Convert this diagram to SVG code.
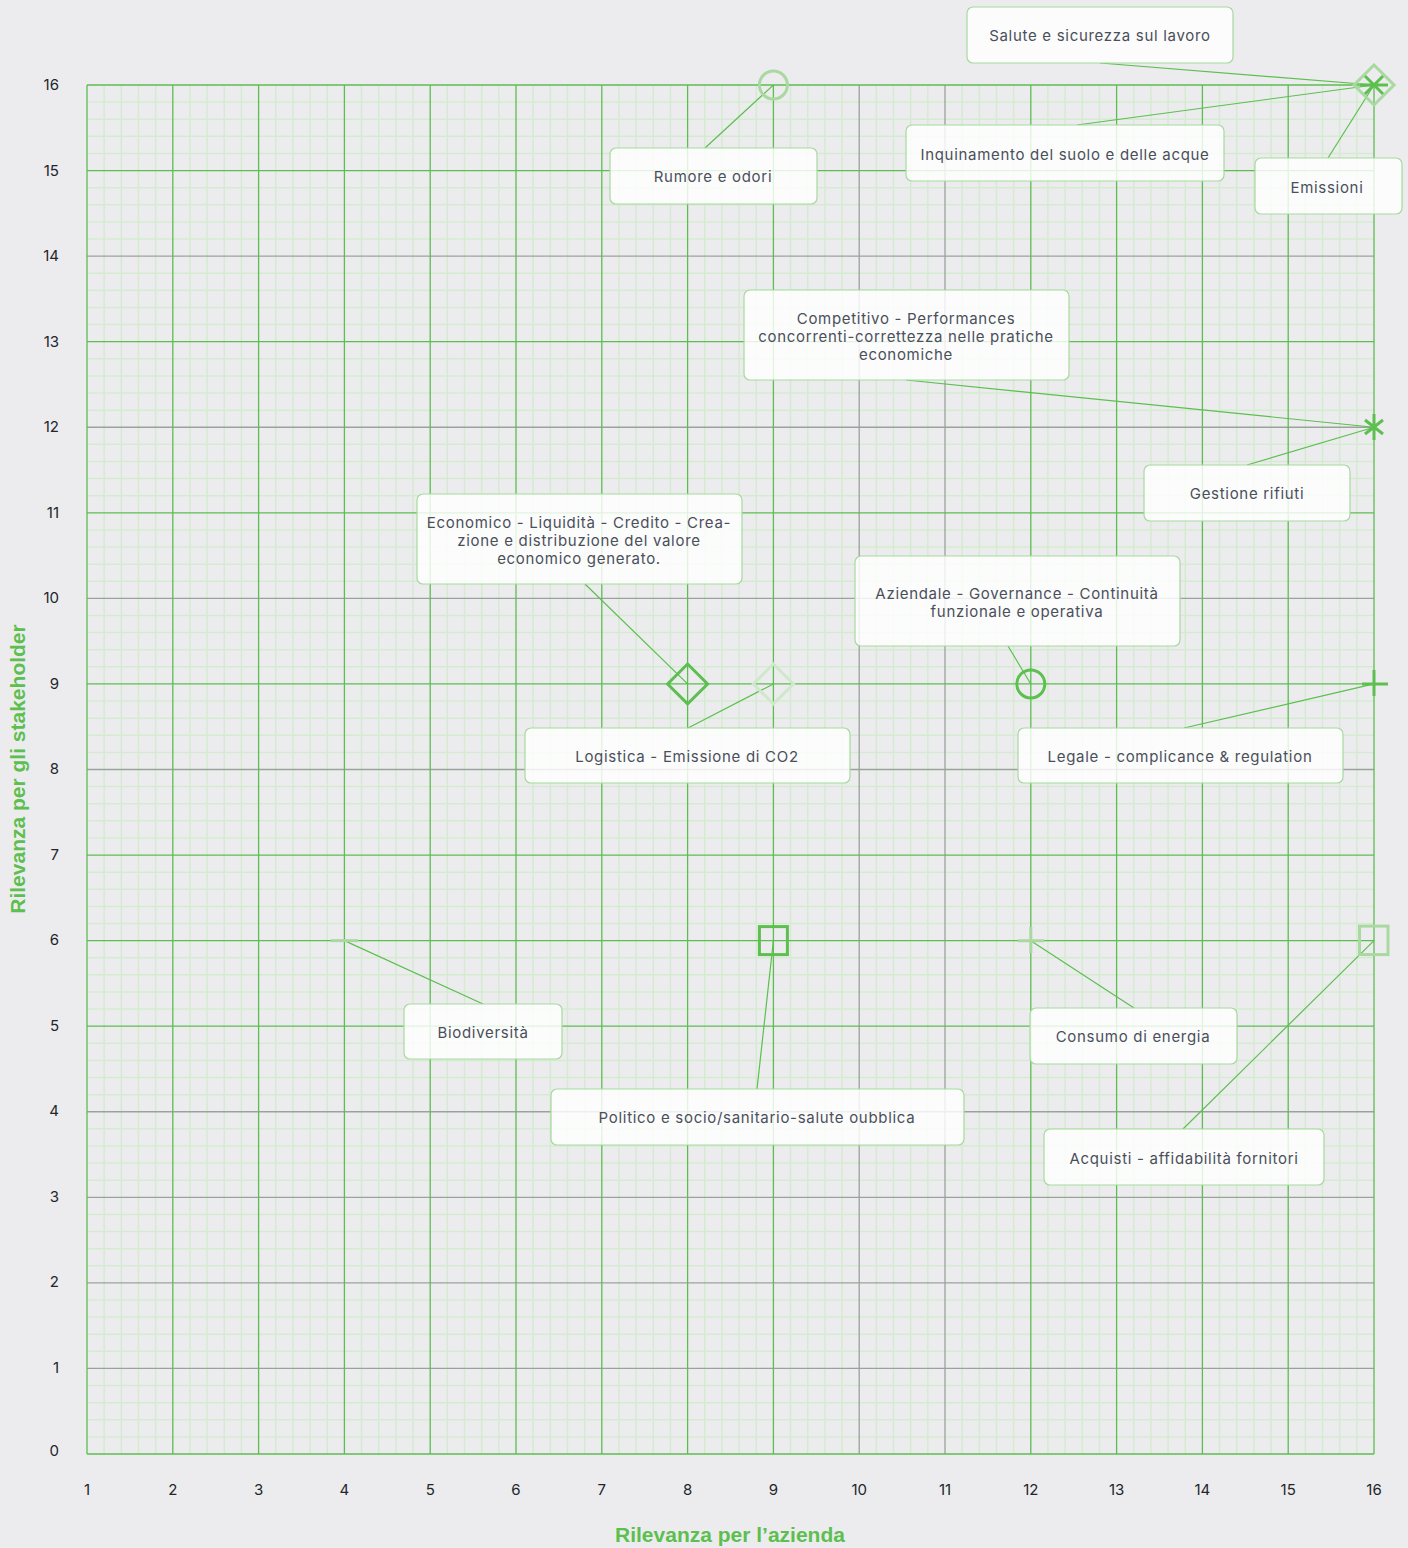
<svg xmlns="http://www.w3.org/2000/svg" width="1408" height="1548" viewBox="0 0 1408 1548">
<style>
.minor{stroke:#d5ebd1;stroke-width:1.5;fill:none}
.major{stroke:#5dbd52;stroke-width:1.3;fill:none}
.majorg{stroke:#9aa39a;stroke-width:1.3;fill:none}
.tick{font-family:Inter,"Liberation Sans",sans-serif;font-size:15px;fill:#22262b}
.title{font-family:"Liberation Sans",Arial,sans-serif;font-size:21px;font-weight:bold;fill:#5cbf4f}
.box{fill:#ffffff;fill-opacity:0.82;stroke:#a6d99d;stroke-width:1.2}
.lbl{font-family:Inter,"Liberation Sans",sans-serif;font-size:15px;letter-spacing:0.7px;fill:#4a4f5a;text-anchor:middle}
.conn{stroke:#5cbf4f;stroke-width:1.2;fill:none}
.mk{fill:none;stroke:#5cbf4f;stroke-width:3}
.mkl{fill:none;stroke:#a9d9a0;stroke-width:3}
.mkxl{fill:none;stroke:#cfe8ca;stroke-width:3}
</style>
<rect x="0" y="0" width="1408" height="1548" fill="#ececee"/>
<g id="grid">
<path class="minor" d="M104.16 85V1454M121.32 85V1454M138.48 85V1454M155.64 85V1454M189.96 85V1454M207.12 85V1454M224.28 85V1454M241.44 85V1454M275.76 85V1454M292.92 85V1454M310.08 85V1454M327.24 85V1454M361.56 85V1454M378.72 85V1454M395.88 85V1454M413.04 85V1454M447.36 85V1454M464.52 85V1454M481.68 85V1454M498.84 85V1454M533.16 85V1454M550.32 85V1454M567.48 85V1454M584.64 85V1454M618.96 85V1454M636.12 85V1454M653.28 85V1454M670.44 85V1454M704.76 85V1454M721.92 85V1454M739.08 85V1454M756.24 85V1454M790.56 85V1454M807.72 85V1454M824.88 85V1454M842.04 85V1454M876.36 85V1454M893.52 85V1454M910.68 85V1454M927.84 85V1454M962.16 85V1454M979.32 85V1454M996.48 85V1454M1013.64 85V1454M1047.96 85V1454M1065.12 85V1454M1082.28 85V1454M1099.44 85V1454M1133.76 85V1454M1150.92 85V1454M1168.08 85V1454M1185.24 85V1454M1219.56 85V1454M1236.72 85V1454M1253.88 85V1454M1271.04 85V1454M1305.36 85V1454M1322.52 85V1454M1339.68 85V1454M1356.84 85V1454"/>
<path class="minor" d="M87 102.11H1374M87 119.23H1374M87 136.34H1374M87 153.45H1374M87 187.68H1374M87 204.79H1374M87 221.9H1374M87 239.01H1374M87 273.24H1374M87 290.35H1374M87 307.46H1374M87 324.58H1374M87 358.8H1374M87 375.91H1374M87 393.03H1374M87 410.14H1374M87 444.36H1374M87 461.48H1374M87 478.59H1374M87 495.7H1374M87 529.93H1374M87 547.04H1374M87 564.15H1374M87 581.26H1374M87 615.49H1374M87 632.6H1374M87 649.71H1374M87 666.83H1374M87 701.05H1374M87 718.16H1374M87 735.28H1374M87 752.39H1374M87 786.61H1374M87 803.73H1374M87 820.84H1374M87 837.95H1374M87 872.18H1374M87 889.29H1374M87 906.4H1374M87 923.51H1374M87 957.74H1374M87 974.85H1374M87 991.96H1374M87 1009.08H1374M87 1043.3H1374M87 1060.41H1374M87 1077.53H1374M87 1094.64H1374M87 1128.86H1374M87 1145.98H1374M87 1163.09H1374M87 1180.2H1374M87 1214.43H1374M87 1231.54H1374M87 1248.65H1374M87 1265.76H1374M87 1299.99H1374M87 1317.1H1374M87 1334.21H1374M87 1351.33H1374M87 1385.55H1374M87 1402.66H1374M87 1419.78H1374M87 1436.89H1374"/>
<path class="majorg" d="M859.2 85V1454M945 85V1454M87 256.13H1374M87 427.25H1374M87 598.38H1374M87 769.5H1374M87 1111.75H1374M87 1197.31H1374M87 1282.88H1374M87 1368.44H1374"/>
<path class="major" d="M87 85V1454M172.8 85V1454M258.6 85V1454M344.4 85V1454M430.2 85V1454M516 85V1454M601.8 85V1454M687.6 85V1454M773.4 85V1454M1030.8 85V1454M1116.6 85V1454M1202.4 85V1454M1288.2 85V1454M1374 85V1454M87 85H1374M87 170.56H1374M87 341.69H1374M87 512.81H1374M87 683.94H1374M87 855.06H1374M87 940.63H1374M87 1026.19H1374M87 1454H1374"/>
</g>
<g id="axes">
<g class="tick" text-anchor="end">
<text x="59" y="90">16</text><text x="59" y="175.5">15</text><text x="59" y="261">14</text><text x="59" y="346.5">13</text><text x="59" y="432">12</text><text x="59" y="517.5">11</text><text x="59" y="603">10</text><text x="59" y="688.5">9</text><text x="59" y="774">8</text><text x="59" y="859.5">7</text><text x="59" y="945">6</text><text x="59" y="1030.5">5</text><text x="59" y="1116">4</text><text x="59" y="1201.5">3</text><text x="59" y="1287">2</text><text x="59" y="1372.5">1</text><text x="59" y="1456">0</text>
</g>
<g class="tick" text-anchor="middle">
<text x="87" y="1495">1</text><text x="172.8" y="1495">2</text><text x="258.6" y="1495">3</text><text x="344.4" y="1495">4</text><text x="430.2" y="1495">5</text><text x="516" y="1495">6</text><text x="601.8" y="1495">7</text><text x="687.6" y="1495">8</text><text x="773.4" y="1495">9</text><text x="859.2" y="1495">10</text><text x="945" y="1495">11</text><text x="1030.8" y="1495">12</text><text x="1116.6" y="1495">13</text><text x="1202.4" y="1495">14</text><text x="1288.2" y="1495">15</text><text x="1374" y="1495">16</text>
</g>
<text class="title" x="730" y="1542" text-anchor="middle">Rilevanza per l’azienda</text>
<text class="title" x="0" y="0" text-anchor="middle" font-size="21.5" transform="translate(25 769) rotate(-90)">Rilevanza per gli stakeholder</text>
</g>
<g id="connectors">
<path class="conn" d="M1100 63L1374 85"/>
<path class="conn" d="M1077 125L1374 85"/>
<path class="conn" d="M1328 158L1374 85"/>
<path class="conn" d="M705 148L773.4 85"/>
<path class="conn" d="M906 380L1374 427.25"/>
<path class="conn" d="M1247 465L1374 427.25"/>
<path class="conn" d="M585 584L687.6 683.94"/>
<path class="conn" d="M1008 646L1030.8 683.94"/>
<path class="conn" d="M688 728L773.4 683.94"/>
<path class="conn" d="M1184 728L1374 683.94"/>
<path class="conn" d="M483 1004L344.4 940.63"/>
<path class="conn" d="M757 1089L773.4 940.63"/>
<path class="conn" d="M1134 1008L1030.8 940.63"/>
<path class="conn" d="M1183 1129L1374 940.63"/>
</g>
<g id="markers">
<circle class="mkl" cx="773.4" cy="85" r="14"/>
<path class="mkl" d="M1374 65L1394 85L1374 105L1354 85Z"/>
<path class="mk" stroke-width="4" d="M1360 85H1388M1365 76L1383 94M1365 94L1383 76"/>
<path class="mk" stroke-width="4.5" d="M1374 414V440M1365 420L1383 434M1365 434L1383 420"/>
<path class="mk" d="M687.6 664L707.6 683.94L687.6 703.9L667.6 683.94Z"/>
<path class="mkxl" d="M773.4 664L793.4 683.94L773.4 703.9L753.4 683.94Z"/>
<circle class="mk" cx="1030.8" cy="683.94" r="14"/>
<path class="mk" stroke-width="4" d="M1362 683.94H1388M1374 670V696"/>
<path class="mkl" stroke-width="4" d="M331 940.63H358"/>
<rect class="mk" x="759.4" y="926.6" width="28" height="28"/>
<path class="mkl" d="M1018 940.63H1044M1030.8 927V953"/>
<rect class="mkl" x="1359.5" y="926.1" width="28.5" height="28.5"/>
</g>
<g id="n-salute"><rect class="box" x="967" y="7" width="266" height="56" rx="6"/><text class="lbl" x="1100" y="41">Salute e sicurezza sul lavoro</text></g>
<g id="n-inquinamento"><rect class="box" x="906" y="125" width="318" height="56" rx="6"/><text class="lbl" x="1065" y="160">Inquinamento del suolo e delle acque</text></g>
<g id="n-emissioni"><rect class="box" x="1255" y="158" width="147" height="56" rx="6"/><text class="lbl" x="1327" y="193">Emissioni</text></g>
<g id="n-rumore"><rect class="box" x="610" y="148" width="207" height="56" rx="6"/><text class="lbl" x="713" y="182">Rumore e odori</text></g>
<g id="n-competitivo"><rect class="box" x="744" y="290" width="325" height="90" rx="6"/><text class="lbl" x="906" y="324">Competitivo - Performances</text><text class="lbl" x="906" y="342">concorrenti-correttezza nelle pratiche</text><text class="lbl" x="906" y="360">economiche</text></g>
<g id="n-rifiuti"><rect class="box" x="1144" y="465" width="206" height="56" rx="6"/><text class="lbl" x="1247" y="499">Gestione rifiuti</text></g>
<g id="n-economico"><rect class="box" x="417" y="494" width="325" height="90" rx="6"/><text class="lbl" x="579" y="528">Economico - Liquidità - Credito - Crea-</text><text class="lbl" x="579" y="546">zione e distribuzione del valore</text><text class="lbl" x="579" y="564">economico generato.</text></g>
<g id="n-aziendale"><rect class="box" x="855" y="556" width="325" height="90" rx="6"/><text class="lbl" x="1017" y="599">Aziendale - Governance - Continuità</text><text class="lbl" x="1017" y="617">funzionale e operativa</text></g>
<g id="n-logistica"><rect class="box" x="525" y="728" width="325" height="55" rx="6"/><text class="lbl" x="687" y="762">Logistica - Emissione di CO2</text></g>
<g id="n-legale"><rect class="box" x="1018" y="728" width="325" height="55" rx="6"/><text class="lbl" x="1180" y="762">Legale - complicance &amp; regulation</text></g>
<g id="n-biodiversita"><rect class="box" x="404" y="1004" width="158" height="55" rx="6"/><text class="lbl" x="483" y="1038">Biodiversità</text></g>
<g id="n-politico"><rect class="box" x="551" y="1089" width="413" height="56" rx="6"/><text class="lbl" x="757" y="1123">Politico e socio/sanitario-salute oubblica</text></g>
<g id="n-energia"><rect class="box" x="1030" y="1008" width="207" height="56" rx="6"/><text class="lbl" x="1133" y="1042">Consumo di energia</text></g>
<g id="n-acquisti"><rect class="box" x="1044" y="1129" width="280" height="56" rx="6"/><text class="lbl" x="1184" y="1164">Acquisti - affidabilità fornitori</text></g>
</svg>
